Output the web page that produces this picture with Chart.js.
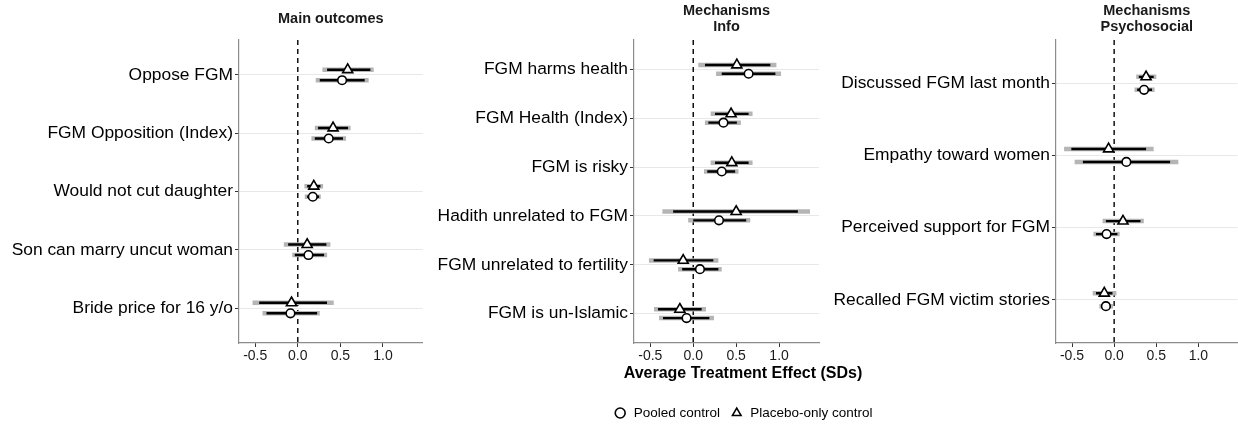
<!DOCTYPE html>
<html>
<head>
<meta charset="utf-8">
<script src="https://cdn.jsdelivr.net/npm/chart.js@4.4.0/dist/chart.umd.min.js"></script>
<style>
  html, body { margin: 0; padding: 0; background: #fff; overflow: hidden; }
  #wrap { position: relative; width: 1238px; height: 428px; overflow: hidden; }
  canvas { position: absolute; top: 0; }
</style>
</head>
<body>
<div id="wrap">
  <canvas id="c1" width="430" height="428" style="left:0px"></canvas>
  <canvas id="c2" width="400" height="428" style="left:430px"></canvas>
  <canvas id="c3" width="1004" height="440" style="left:241px"></canvas>
</div>
<script>
// data: estimates, 90% (black) and 95% (grey) intervals

const xTicks = [-0.5, 0, 0.5, 1.0];

// Main outcomes
const mainLabels = ['Oppose FGM', 'FGM Opposition (Index)', 'Would not cut daughter', 'Son can marry uncut woman', 'Bride price for 16 y/o'];
const mainPooled = [0.52, 0.363, 0.176, 0.125, -0.086];
const mainPooledLo90 = [0.258, 0.2, 0.11, -0.035, -0.367];
const mainPooledHi90 = [0.785, 0.53, 0.25, 0.309, 0.227];
const mainPooledLo95 = [0.211, 0.16, 0.082, -0.066, -0.414];
const mainPooledHi95 = [0.832, 0.566, 0.27, 0.344, 0.258];
const mainPlacebo = [0.586, 0.414, 0.188, 0.11, -0.074];
const mainPlaceboLo90 = [0.344, 0.238, 0.11, -0.113, -0.453];
const mainPlaceboHi90 = [0.852, 0.59, 0.266, 0.336, 0.343];
const mainPlaceboLo95 = [0.289, 0.2, 0.078, -0.164, -0.531];
const mainPlaceboHi95 = [0.891, 0.62, 0.297, 0.383, 0.422];

// Mechanisms - Info
const infoLabels = ['FGM harms health', 'FGM Health (Index)', 'FGM is risky', 'Hadith unrelated to FGM', 'FGM unrelated to fertility', 'FGM is un-Islamic'];
const infoPooled = [0.645, 0.352, 0.332, 0.30, 0.078, -0.078];
const infoPooledLo90 = [0.332, 0.176, 0.164, 0.0, -0.129, -0.352];
const infoPooledHi90 = [0.957, 0.508, 0.488, 0.617, 0.293, 0.188];
const infoPooledLo95 = [0.266, 0.137, 0.125, -0.059, -0.176, -0.398];
const infoPooledHi95 = [1.023, 0.555, 0.527, 0.664, 0.332, 0.242];
const infoPlacebo = [0.508, 0.441, 0.449, 0.50, -0.117, -0.156];
const infoPlaceboLo90 = [0.137, 0.254, 0.254, -0.234, -0.461, -0.41];
const infoPlaceboHi90 = [0.898, 0.645, 0.645, 1.219, 0.234, 0.098];
const infoPlaceboLo95 = [0.059, 0.203, 0.203, -0.359, -0.516, -0.457];
const infoPlaceboHi95 = [0.969, 0.691, 0.691, 1.36, 0.293, 0.148];

// Mechanisms - Psychosocial
const psyLabels = ['Discussed FGM last month', 'Empathy toward women', 'Perceived support for FGM', 'Recalled FGM victim stories'];
const psyPooled = [0.355, 0.145, -0.09, -0.098];
const psyPooledLo90 = [0.273, -0.371, -0.215, -0.156];
const psyPooledHi90 = [0.449, 0.664, 0.039, -0.039];
const psyPooledLo95 = [0.242, -0.469, -0.246, -0.176];
const psyPooledHi95 = [0.48, 0.762, 0.066, -0.012];
const psyPlacebo = [0.379, -0.066, 0.105, -0.117];
const psyPlaceboLo90 = [0.293, -0.508, -0.098, -0.215];
const psyPlaceboHi90 = [0.469, 0.379, 0.3125, -0.02];
const psyPlaceboLo95 = [0.262, -0.594, -0.137, -0.254];
const psyPlaceboHi95 = [0.5, 0.469, 0.352, 0.027];

// setup
Chart.defaults.font.family = "'Liberation Sans', Arial, sans-serif";
const xMin = -0.69, xMax = 1.465;
const dodge = 0.09;

function points(est, off) {
    return est.map((v, i) => ({x: v, y: i + 1 + off}));
}

function intervals(lo, hi, off) {
    const pts = [];
    lo.forEach((v, i) => {
        pts.push({x: v, y: i + 1 + off}, {x: hi[i], y: i + 1 + off}, {x: null, y: null});
    });
    return pts;
}

function makePanel(id, p) {
    const n = p.labels.length;
    const datasets = [
        {
            label: 'Pooled control', data: points(p.pooled, dodge), showLine: false,
            pointStyle: 'circle', pointRadius: 4.3, pointBorderWidth: 1.6,
            pointBackgroundColor: '#fff', pointBorderColor: '#000',
            backgroundColor: '#fff', borderColor: '#000', borderWidth: 1.6
        },
        {
            label: 'Placebo-only control', data: points(p.placebo, -dodge), showLine: false,
            pointStyle: 'triangle', pointRadius: 5.8, pointBorderWidth: 1.6,
            pointBackgroundColor: '#fff', pointBorderColor: '#000',
            backgroundColor: '#fff', borderColor: '#000', borderWidth: 1.6
        },
        { data: intervals(p.pooledLo90, p.pooledHi90, dodge), borderColor: '#000', borderWidth: 2.4, pointRadius: 0, spanGaps: false },
        { data: intervals(p.placeboLo90, p.placeboHi90, -dodge), borderColor: '#000', borderWidth: 2.4, pointRadius: 0, spanGaps: false },
        { data: intervals(p.pooledLo95, p.pooledHi95, dodge), borderColor: '#b5b5b5', borderWidth: 4.5, pointRadius: 0, spanGaps: false },
        { data: intervals(p.placeboLo95, p.placeboHi95, -dodge), borderColor: '#b5b5b5', borderWidth: 4.5, pointRadius: 0, spanGaps: false },
        // zero reference line
        { data: [{x: 0, y: 0.4}, {x: 0, y: n + 0.6}], borderColor: '#000', borderWidth: 1.4, borderDash: [5, 4], pointRadius: 0 }
    ];

    return new Chart(document.getElementById(id), {
        type: 'line',
        data: { datasets },
        options: {
            responsive: false,
            animation: false,
            events: [],
            layout: { padding: p.padding },
            plugins: {
                tooltip: { enabled: false },
                title: {
                    display: true, text: p.title, fullSize: false, color: '#1a1a1a',
                    font: { size: 14.5, weight: 'bold', lineHeight: 1.05 },
                    padding: p.titlePad
                },
                // shared x axis title, sits between the axis and the legend
                subtitle: {
                    display: !!p.xTitle, text: p.xTitle || '', position: 'bottom', weight: 500,
                    color: '#000', font: { size: 16, weight: 'bold', lineHeight: 1.2 },
                    padding: { top: 0.4, bottom: 12.65 }
                },
                legend: {
                    display: !!p.legend,
                    position: 'bottom',
                    labels: {
                        usePointStyle: true, boxHeight: 7, padding: 10, color: '#000',
                        font: { size: 13.5 },
                        filter: item => !!item.text
                    }
                }
            },
            scales: {
                x: {
                    type: 'linear', min: xMin, max: xMax, bounds: 'data',
                    afterBuildTicks: ax => { ax.ticks = xTicks.map(v => ({value: v})); },
                    afterFit: ax => { ax.height = p.xHeight; },
                    ticks: { callback: v => v.toFixed(1), color: '#1a1a1a', font: { size: 14 }, padding: 1, maxRotation: 0, autoSkip: false },
                    grid: { drawOnChartArea: false, tickLength: 4, tickColor: '#333' },
                    border: { color: '#8c8c8c', width: 1.2 }
                },
                y: {
                    type: 'linear', reverse: true, min: 0.4, max: n + 0.6, bounds: 'data',
                    afterBuildTicks: ax => { ax.ticks = p.labels.map((_, i) => ({value: i + 1})); },
                    afterFit: ax => { ax.width = p.yWidth; },
                    ticks: { callback: v => p.labels[v - 1], color: '#000', font: { size: 17.4 }, padding: 2, autoSkip: false },
                    grid: { color: '#e8e8e8', lineWidth: 1, tickLength: 4, tickColor: '#333' },
                    border: { color: '#8c8c8c', width: 1.2 }
                }
            }
        }
    });
}

// render init block
makePanel('c1', {
    labels: mainLabels, title: 'Main outcomes',
    pooled: mainPooled, pooledLo90: mainPooledLo90, pooledHi90: mainPooledHi90, pooledLo95: mainPooledLo95, pooledHi95: mainPooledHi95,
    placebo: mainPlacebo, placeboLo90: mainPlaceboLo90, placeboHi90: mainPlaceboHi90, placeboLo95: mainPlaceboLo95, placeboHi95: mainPlaceboHi95,
    padding: { left: 0, right: 7, top: 0, bottom: 40 },
    titlePad: { top: 11.4, bottom: 13.4 },
    xHeight: 45, yWidth: 239
});

makePanel('c2', {
    labels: infoLabels, title: ['Mechanisms', 'Info'],
    pooled: infoPooled, pooledLo90: infoPooledLo90, pooledHi90: infoPooledHi90, pooledLo95: infoPooledLo95, pooledHi95: infoPooledHi95,
    placebo: infoPlacebo, placeboLo90: infoPlaceboLo90, placeboHi90: infoPlaceboHi90, placeboLo95: infoPlaceboLo95, placeboHi95: infoPlaceboHi95,
    padding: { left: 0, right: 11, top: 0, bottom: 40 },
    titlePad: { top: 3.7, bottom: 5.9 },
    xHeight: 45, yWidth: 204
});

// widest canvas: carries the shared axis title and the legend, centred under the middle panel
makePanel('c3', {
    labels: psyLabels, title: ['Mechanisms', 'Psychosocial'], legend: true,
    xTitle: 'Average Treatment Effect (SDs)',
    pooled: psyPooled, pooledLo90: psyPooledLo90, pooledHi90: psyPooledHi90, pooledLo95: psyPooledLo95, pooledHi95: psyPooledHi95,
    placebo: psyPlacebo, placeboLo90: psyPlaceboLo90, placeboHi90: psyPlaceboHi90, placeboLo95: psyPlaceboLo95, placeboHi95: psyPlaceboHi95,
    padding: { left: 0, right: 0, top: 0, bottom: 10.25 },
    titlePad: { top: 3.7, bottom: 5.9 },
    xHeight: 21, yWidth: 815
});
</script>
</body>
</html>
